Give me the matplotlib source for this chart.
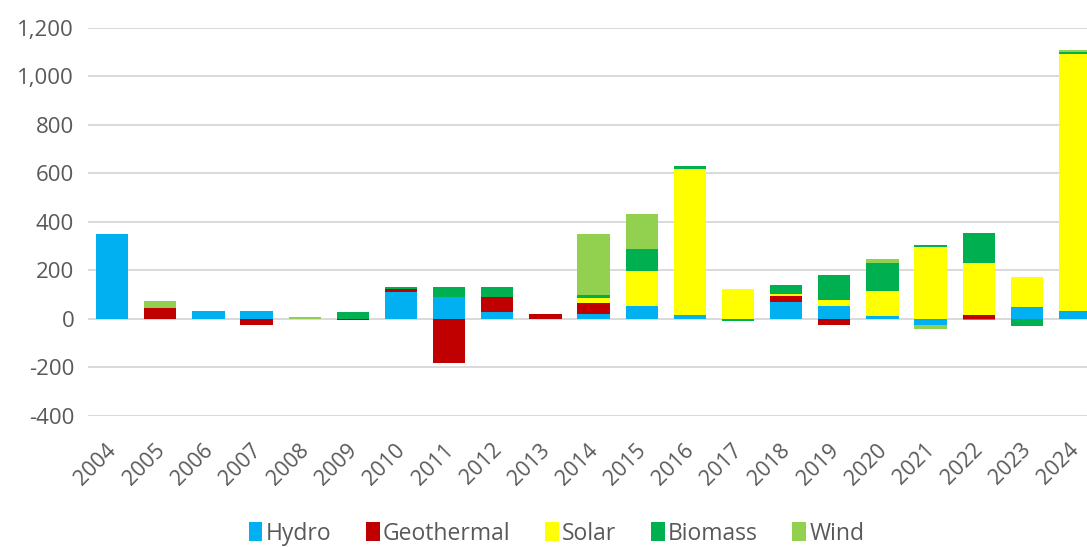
import matplotlib.pyplot as plt
import numpy as np

plt.rcParams['font.family'] = ['Open Sans', 'DejaVu Sans']

years = [str(y) for y in range(2004, 2025)]

hydro      = [350, 0, 33, 33, 0, 0, 110, 92, 30, 0, 22, 55, 16, 0, 69, 52, 14, -25, -6, 48, 32]
geothermal = [0, 45, 0, -23, 0, -6, 14, -183, 62, 20, 45, 0, 0, 0, 25, -23, 0, 0, 18, 0, 0]
solar      = [0, 0, 0, 0, 0, 0, 0, 0, 0, 0, 20, 143, 602, 124, 11, 28, 100, 298, 214, 124, 1062]
biomass    = [0, 0, 0, 0, 0, 30, 7, 41, 38, 0, 12, 89, 12, -10, 36, 103, 116, 5, 124, -28, 5]
wind       = [0, 30, 0, 0, 8, 0, 0, 0, 0, 0, 253, 144, 0, 0, 0, 0, 19, -15, 0, 0, 8]

series = [("Hydro", hydro, "#00B0F0"),
          ("Geothermal", geothermal, "#C00000"),
          ("Solar", solar, "#FFFF00"),
          ("Biomass", biomass, "#00B050"),
          ("Wind", wind, "#92D050")]

fig = plt.figure(figsize=(10.87, 5.47), dpi=100)
ax = fig.add_axes([0.081, 0.2395, 0.919, 0.7095])

x = np.arange(len(years))
pos_bottom = np.zeros(len(years))
neg_bottom = np.zeros(len(years))

# stack positives up and negatives down, like Excel does
for name, vals, color in series:
    v = np.array(vals, dtype=float)
    bottom = np.where(v >= 0, pos_bottom, neg_bottom)
    ax.bar(x, v, bottom=bottom, width=0.67, color=color, label=name, zorder=3)
    pos_bottom += np.where(v > 0, v, 0)
    neg_bottom += np.where(v < 0, v, 0)

ax.set_ylim(-400, 1200)
ax.set_xlim(-0.5, 20.25)
ax.set_yticks(range(-400, 1201, 200))
ax.set_yticklabels([f"{t:,}" for t in range(-400, 1201, 200)])
# tick marks are hidden, so set the labels a bit left of the bar centre
ax.set_xticks(x - 0.13)
ax.set_xticklabels(years, rotation=45, ha='right', rotation_mode='anchor')

ax.grid(axis='y', color='#d9d9d9', linewidth=1.4, zorder=0)
for s in ax.spines.values():
    s.set_visible(False)
ax.tick_params(axis='both', length=0, colors='#595959')
ax.tick_params(axis='y', pad=10, labelsize=16)
ax.tick_params(axis='x', pad=17, labelsize=15.5)

fig.legend(loc='center', bbox_to_anchor=(0.512, 0.024), ncol=5, frameon=False,
           fontsize=16.5, handlelength=0.6, handleheight=0.9, handletextpad=0.15,
           columnspacing=1.5, labelcolor='#595959', borderpad=0)

plt.savefig("out.png", dpi=100)
